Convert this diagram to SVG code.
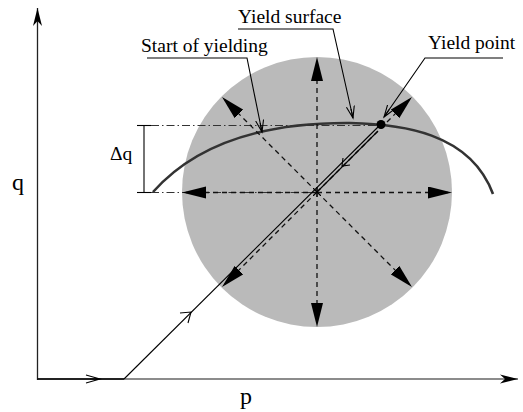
<svg xmlns="http://www.w3.org/2000/svg" width="523" height="412" viewBox="0 0 523 412">
<defs>
<style>
.t{font-family:"Liberation Serif","Times New Roman",serif;font-size:19.5px;fill:#000}
.ax{font-size:24px}
.dash{fill:none;stroke:#111;stroke-width:1.3;stroke-dasharray:5 4}
.dd{fill:none;stroke:#333;stroke-width:1;stroke-dasharray:8 3 1.5 3}
.ln{fill:none;stroke:#000;stroke-width:1.1}
.v{fill:none;stroke:#000;stroke-width:1.1;stroke-linejoin:miter}
</style>
<marker id="big" markerUnits="userSpaceOnUse" markerWidth="26" markerHeight="13" refX="24" refY="6" orient="auto" viewBox="0 0 26 13">
<path d="M0,0 L24,6 L0,12 Z" fill="#000"/>
</marker>
<marker id="open" markerUnits="userSpaceOnUse" markerWidth="14" markerHeight="10" refX="12" refY="4.5" orient="auto" viewBox="0 0 14 10">
<path d="M0,0.5 L12,4.5 L0,8.5 M3,4.5 L12,4.5" fill="none" stroke="#000" stroke-width="1.1"/>
</marker>
<marker id="ax" markerUnits="userSpaceOnUse" markerWidth="20" markerHeight="12" refX="18" refY="5" orient="auto" viewBox="0 0 20 12">
<path d="M0,0.5 L18,5 L0,9.5 L5,5 Z" fill="#000"/>
</marker>
</defs>

<g id="yield-surface-region">
<circle cx="317" cy="192" r="135" fill="#bababa"/>
</g>

<g id="axes">
<line x1="37.5" y1="380" x2="37.5" y2="8" stroke="#222" stroke-width="1.3" marker-end="url(#ax)"/>
<line x1="37" y1="379" x2="518" y2="379" stroke="#666" stroke-width="1.5" marker-end="url(#ax)"/>
<text class="t ax" x="12" y="190">q</text>
<text class="t ax" x="240" y="404">p</text>
</g>

<g id="delta-q">
<line class="dd" x1="151" y1="125.5" x2="381" y2="125.5"/>
<line class="dd" x1="151" y1="192.5" x2="317" y2="192.5"/>
<line class="ln" x1="144" y1="125.5" x2="144" y2="192.5" stroke-width="1.3"/>
<line class="ln" x1="137" y1="125.5" x2="151" y2="125.5" stroke-width="1.3"/>
<line class="ln" x1="137" y1="192.5" x2="151" y2="192.5" stroke-width="1.3"/>
<text class="t" x="110" y="160">Δq</text>
</g>

<g id="yield-curve">
<path d="M153,192 Q215,122 350,123 C400,124 470,132 493,194" fill="none" stroke="#333" stroke-width="2.6"/>
</g>

<g id="connectors">
<line class="dash" x1="317" y1="192" x2="317" y2="57" marker-end="url(#big)"/>
<line class="dash" x1="317" y1="192" x2="317" y2="327" marker-end="url(#big)"/>
<line class="dash" x1="317" y1="192.5" x2="182" y2="192.5" marker-end="url(#big)"/>
<line class="dash" x1="317" y1="192.5" x2="452" y2="192.5" marker-end="url(#big)"/>
<line class="dash" x1="317" y1="192" x2="412" y2="97" marker-end="url(#big)"/>
<line class="dash" x1="317" y1="192" x2="222" y2="97" marker-end="url(#big)"/>
<line class="dash" x1="317" y1="192" x2="412" y2="287" marker-end="url(#big)"/>
<line class="dash" x1="317" y1="192" x2="222" y2="287" marker-end="url(#big)"/>
<path d="M313,188 L321,196 M321,188 L313,196 M317,187 L317,197" stroke="#000" stroke-width="1"/>
<line x1="37" y1="379" x2="124" y2="379" stroke="#000" stroke-width="1.4"/>
<path class="v" d="M86,375 L100,379 L86,383 M90,379 L100,379"/>
<line class="ln" x1="124" y1="379" x2="381" y2="124"/>
<path class="v" d="M180,313 L191,312 L188,323"/>
<line class="ln" x1="378" y1="131" x2="317" y2="192"/>
<path class="v" d="M343,158 L342,166 L350,165"/>
<polyline class="ln" points="238,29 333,29 353,118" marker-end="url(#open)"/>
<polyline class="ln" points="147,58 247,58 262,132" marker-end="url(#open)"/>
<polyline class="ln" points="503,58 425,58 384,117" marker-end="url(#open)"/>
</g>

<g id="yield-point">
<circle cx="381" cy="124.5" r="4.5" fill="#000"/>
</g>

<g id="labels">
<text class="t" x="238" y="23">Yield surface</text>
<text class="t" x="141" y="52">Start of yielding</text>
<text class="t" x="428" y="49">Yield point</text>
</g>
</svg>
